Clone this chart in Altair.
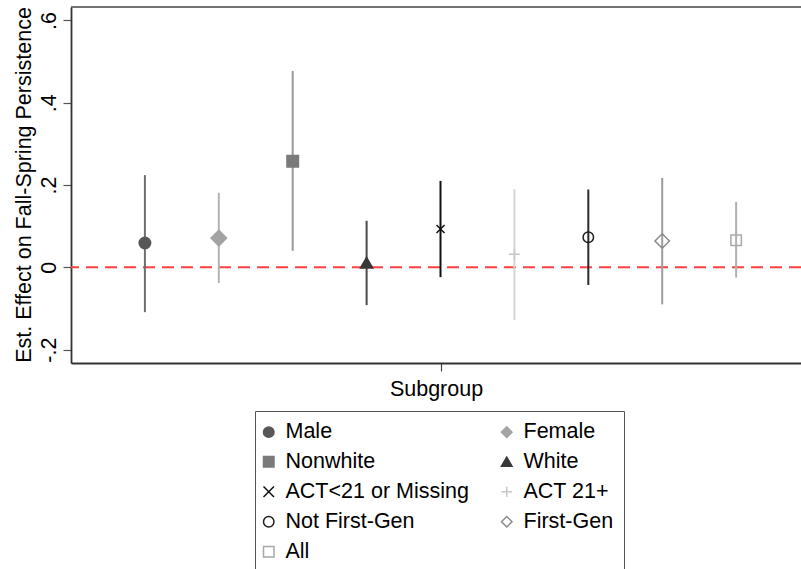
import altair as alt
import pandas as pd

# ---- data ----
groups = ["Male", "Female", "Nonwhite", "White", "ACT<21 or Missing",
          "ACT 21+", "Not First-Gen", "First-Gen", "All"]
positions = [1, 2, 3, 4, 5, 6, 7, 8, 9]
estimates = [0.059, 0.071, 0.258, 0.011, 0.093, 0.032, 0.073, 0.064, 0.066]
ci_low = [-0.109, -0.038, 0.040, -0.092, -0.024, -0.128, -0.043, -0.090, -0.025]
ci_high = [0.224, 0.181, 0.477, 0.113, 0.210, 0.190, 0.189, 0.217, 0.159]
y_ticks = [-0.2, 0, 0.2, 0.4, 0.6]

# ---- styles (one per group, same order as groups) ----
X_PATH = "M-1,-1L1,1M-1,1L1,-1"
PLUS_PATH = "M-1,0L1,0M0,-1L0,1"
shapes = ["circle", "diamond", "square", "triangle-up", X_PATH, PLUS_PATH,
          "circle", "diamond", "square"]
fills = ["#575757", "#a3a3a3", "#7a7a7a", "#383838", "transparent",
         "transparent", "transparent", "transparent", "transparent"]
strokes = ["#575757", "#a3a3a3", "#7a7a7a", "#383838", "#111111",
           "#c8c8c8", "#1e1e1e", "#8a8a8a", "#a8a8a8"]
bar_colors = ["#6e6e6e", "#b3b3b3", "#999999", "#4a4a4a", "#111111",
              "#d6d6d6", "#2a2a2a", "#9c9c9c", "#b0b0b0"]
sizes = [132, 240, 132, 150, 64, 121, 110, 210, 110]

# legend fills column by column: first column, then second
legend_order = [groups[i] for i in (0, 2, 4, 6, 8, 1, 3, 5, 7)]


def in_legend_order(values):
    return [values[groups.index(g)] for g in legend_order]


FONT = "Liberation Sans"
FS = 21.5
W, H = 730, 356

df = pd.DataFrame({"group": groups, "pos": positions, "est": estimates,
                   "lo": ci_low, "hi": ci_high})

xscale = alt.Scale(domain=[0, 9.878], nice=False, zero=False)
yscale = alt.Scale(domain=[-0.2326, 0.6326], nice=False, zero=False)

x_enc = alt.X("pos:Q", scale=xscale,
              axis=alt.Axis(values=[5], labels=False, tickSize=8, grid=False,
                            title="Subgroup", titleFont=FONT, titleFontSize=FS,
                            titleFontWeight="normal", titleColor="black",
                            titleBaseline="alphabetic", titleY=32.5,
                            domainColor="#333333", domainWidth=1.8,
                            tickColor="#444444", tickWidth=1.2))

y_axis = alt.Axis(values=y_ticks, grid=False, tickSize=8, tickColor="#555555",
                  tickWidth=1.2, domainColor="#333333", domainWidth=1.8,
                  labelExpr="datum.value == 0 ? '0' : (datum.value < 0 ? '-' : '') + substring(format(abs(datum.value), '.1f'), 1)",
                  labelAngle=270, labelAlign="center", labelBaseline="alphabetic",
                  labelPadding=8, labelFont=FONT, labelFontSize=FS, labelColor="black",
                  title="Est. Effect on Fall-Spring Persistence", titleFont=FONT,
                  titleFontSize=FS, titleFontWeight="normal", titleColor="black",
                  titleAngle=270, titleAlign="center", titleBaseline="alphabetic",
                  titleX=-40.5, titleY=177.5)

legend = alt.Legend(
    title=None, orient="none", legendX=184, legendY=404, columns=2,
    columnPadding=29, rowPadding=7, padding=10,
    strokeColor="#555555", fillColor="white",
    labelFont=FONT, labelFontSize=FS, labelColor="black", labelLimit=400,
    labelOffset=6, symbolOffset={"expr": "-7"},
    symbolSize=110, symbolStrokeWidth=1.5,
)

zero_line = alt.Chart(pd.DataFrame({"y": [0.0]})).mark_rule(
    color="#ff4040", strokeWidth=2, strokeDash=[12, 7]
).encode(y=alt.Y("y:Q", scale=yscale, axis=y_axis))

top_border = alt.Chart(pd.DataFrame({"t": [0]})).mark_rule(
    color="#444444", strokeWidth=1.6
).encode(y=alt.value(0))

bars = alt.Chart(df).mark_rule(strokeWidth=2).encode(
    x=x_enc,
    y=alt.Y("lo:Q", scale=yscale),
    y2="hi:Q",
    color=alt.Color("pos:O", scale=alt.Scale(domain=positions, range=bar_colors),
                    legend=None),
)

points = alt.Chart(df).mark_point(opacity=1, strokeWidth=1.5).encode(
    x=alt.X("pos:Q", scale=xscale),
    y=alt.Y("est:Q", scale=yscale),
    shape=alt.Shape("group:N",
                    scale=alt.Scale(domain=legend_order, range=in_legend_order(shapes)),
                    legend=legend),
    fill=alt.Fill("group:N",
                  scale=alt.Scale(domain=legend_order, range=in_legend_order(fills)),
                  legend=legend),
    stroke=alt.Stroke("group:N",
                      scale=alt.Scale(domain=legend_order, range=in_legend_order(strokes)),
                      legend=legend),
    size=alt.Size("pos:O",
                  scale=alt.Scale(type="ordinal", domain=positions, range=sizes),
                  legend=None),
)

chart = alt.layer(zero_line, top_border, bars, points).properties(
    width=W, height=H,
    autosize=alt.AutoSizeParams(type="none"),
    padding={"left": 71, "top": 7, "right": 0, "bottom": 206},
).configure_view(stroke=None)

chart.save("out.html", embed_options={"renderer": "svg", "actions": False})
